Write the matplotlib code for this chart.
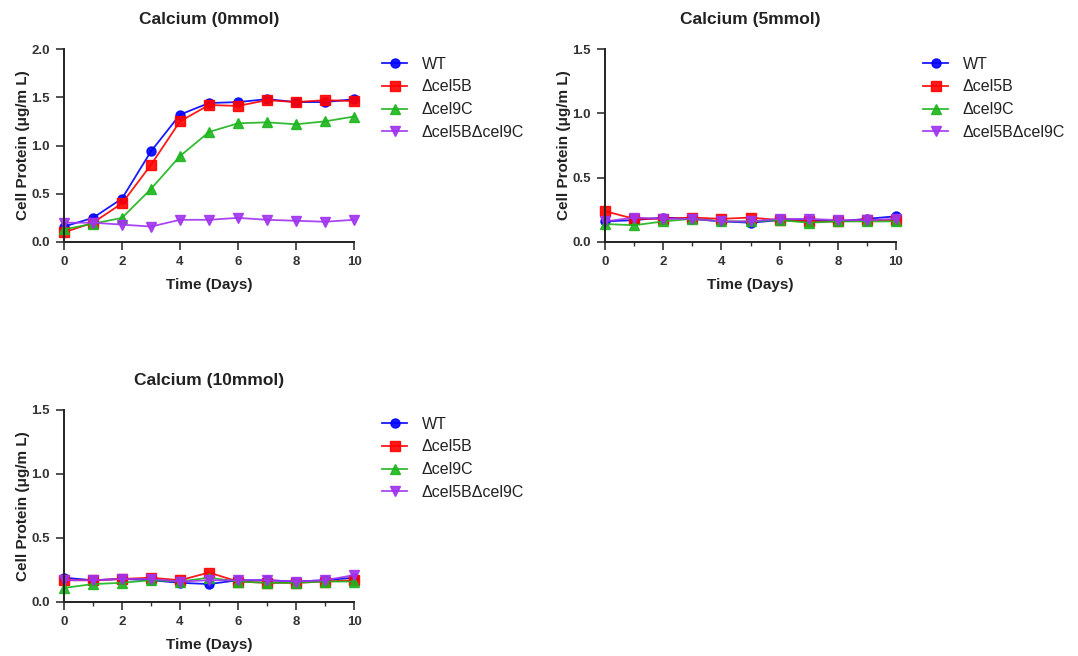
import matplotlib
matplotlib.use("Agg")
import matplotlib.pyplot as plt
from matplotlib.ticker import MultipleLocator

plt.rcParams['font.family'] = ['Liberation Sans', 'DejaVu Sans']

days = [0, 1, 2, 3, 4, 5, 6, 7, 8, 9, 10]
strains = ["WT", "Δcel5B", "Δcel9C", "Δcel5BΔcel9C"]
titles = ["Calcium (0mmol)", "Calcium (5mmol)", "Calcium (10mmol)"]

# Calcium 0 mmol
ca0_wt = [0.16, 0.25, 0.45, 0.94, 1.32, 1.44, 1.45, 1.48, 1.45, 1.45, 1.48]
ca0_5b = [0.10, 0.20, 0.40, 0.80, 1.25, 1.42, 1.41, 1.47, 1.45, 1.47, 1.46]
ca0_9c = [0.13, 0.19, 0.25, 0.55, 0.89, 1.14, 1.23, 1.24, 1.22, 1.25, 1.30]
ca0_dd = [0.20, 0.20, 0.18, 0.16, 0.23, 0.23, 0.25, 0.23, 0.22, 0.21, 0.23]

# Calcium 5 mmol
ca5_wt = [0.16, 0.17, 0.19, 0.18, 0.16, 0.15, 0.17, 0.17, 0.16, 0.18, 0.20]
ca5_5b = [0.24, 0.18, 0.18, 0.19, 0.18, 0.19, 0.17, 0.16, 0.16, 0.17, 0.17]
ca5_9c = [0.14, 0.13, 0.16, 0.18, 0.16, 0.16, 0.17, 0.15, 0.16, 0.16, 0.16]
ca5_dd = [0.16, 0.19, 0.18, 0.18, 0.16, 0.16, 0.18, 0.18, 0.17, 0.17, 0.18]

# Calcium 10 mmol
ca10_wt = [0.19, 0.17, 0.18, 0.17, 0.15, 0.14, 0.17, 0.17, 0.16, 0.17, 0.19]
ca10_5b = [0.17, 0.17, 0.18, 0.19, 0.17, 0.23, 0.16, 0.15, 0.15, 0.16, 0.17]
ca10_9c = [0.11, 0.14, 0.15, 0.17, 0.16, 0.19, 0.16, 0.15, 0.15, 0.16, 0.16]
ca10_dd = [0.17, 0.17, 0.18, 0.18, 0.16, 0.17, 0.17, 0.17, 0.16, 0.17, 0.21]

panels = [
    [ca0_wt, ca0_5b, ca0_9c, ca0_dd],
    [ca5_wt, ca5_5b, ca5_9c, ca5_dd],
    [ca10_wt, ca10_5b, ca10_9c, ca10_dd],
]
ymaxes = [2.0, 1.5, 1.5]
yticks = [[0.0, 0.5, 1.0, 1.5, 2.0], [0.0, 0.5, 1.0, 1.5], [0.0, 0.5, 1.0, 1.5]]

colors = ["#0000FF", "#FF0000", "#1DB51D", "#A033F0"]
markers = ["o", "s", "^", "v"]

W, H = 1078, 656
fig = plt.figure(figsize=(W / 100, H / 100), dpi=100)

rects = [
    (64, 49, 354, 242),
    (605, 49, 896, 242),
    (64, 410, 354, 602),
]
legend_pos = [(377, 52), (918, 52), (377, 412)]
minor_x = [False, True, True]

for i, (x0, y0, x1, y1) in enumerate(rects):
    ax = fig.add_axes([x0 / W, 1 - y1 / H, (x1 - x0) / W, (y1 - y0) / H])
    for s, vals in enumerate(panels[i]):
        ax.plot(days, vals, color=colors[s], marker=markers[s], markersize=6.5,
                linewidth=1.3, label=strains[s], alpha=0.9)
    ax.set_xlim(0, 10)
    ax.set_ylim(0, ymaxes[i])
    ax.set_xticks([0, 2, 4, 6, 8, 10])
    ax.set_yticks(yticks[i])
    ax.set_yticklabels([f"{v:.1f}" for v in yticks[i]])
    if minor_x[i]:
        ax.xaxis.set_minor_locator(MultipleLocator(1))
    for sp in ["top", "right"]:
        ax.spines[sp].set_visible(False)
    for sp in ["left", "bottom"]:
        ax.spines[sp].set_linewidth(1.4)
        ax.spines[sp].set_color("#222222")
    ax.tick_params(axis="both", which="major", direction="out", length=5.5, width=1.2,
                   labelsize=9.5, colors="#333333", pad=4.5)
    ax.tick_params(axis="x", which="minor", direction="out", length=3, width=1.0,
                   colors="#333333")
    for lbl in ax.get_xticklabels() + ax.get_yticklabels():
        lbl.set_fontweight("bold")
    ax.set_xlabel("Time (Days)", fontsize=11, fontweight="bold", color="#222222", labelpad=7)
    ax.set_ylabel("Cell Protein (μg/m L)", fontsize=11, fontweight="bold", color="#222222", labelpad=1)
    ax.set_title(titles[i], fontsize=12.5, fontweight="bold", color="#222222", pad=18)
    for line in ax.lines:
        line.set_clip_on(False)
    lx, ly = legend_pos[i]
    fig.legend(handles=ax.lines, labels=strains, loc="upper left",
               bbox_to_anchor=(lx / W, 1 - ly / H), frameon=False,
               fontsize=11.5, handlelength=1.6, labelspacing=0.48, handletextpad=0.9,
               borderaxespad=0, borderpad=0.3, labelcolor="#222222")

fig.savefig("out.png", dpi=100, facecolor="white")
